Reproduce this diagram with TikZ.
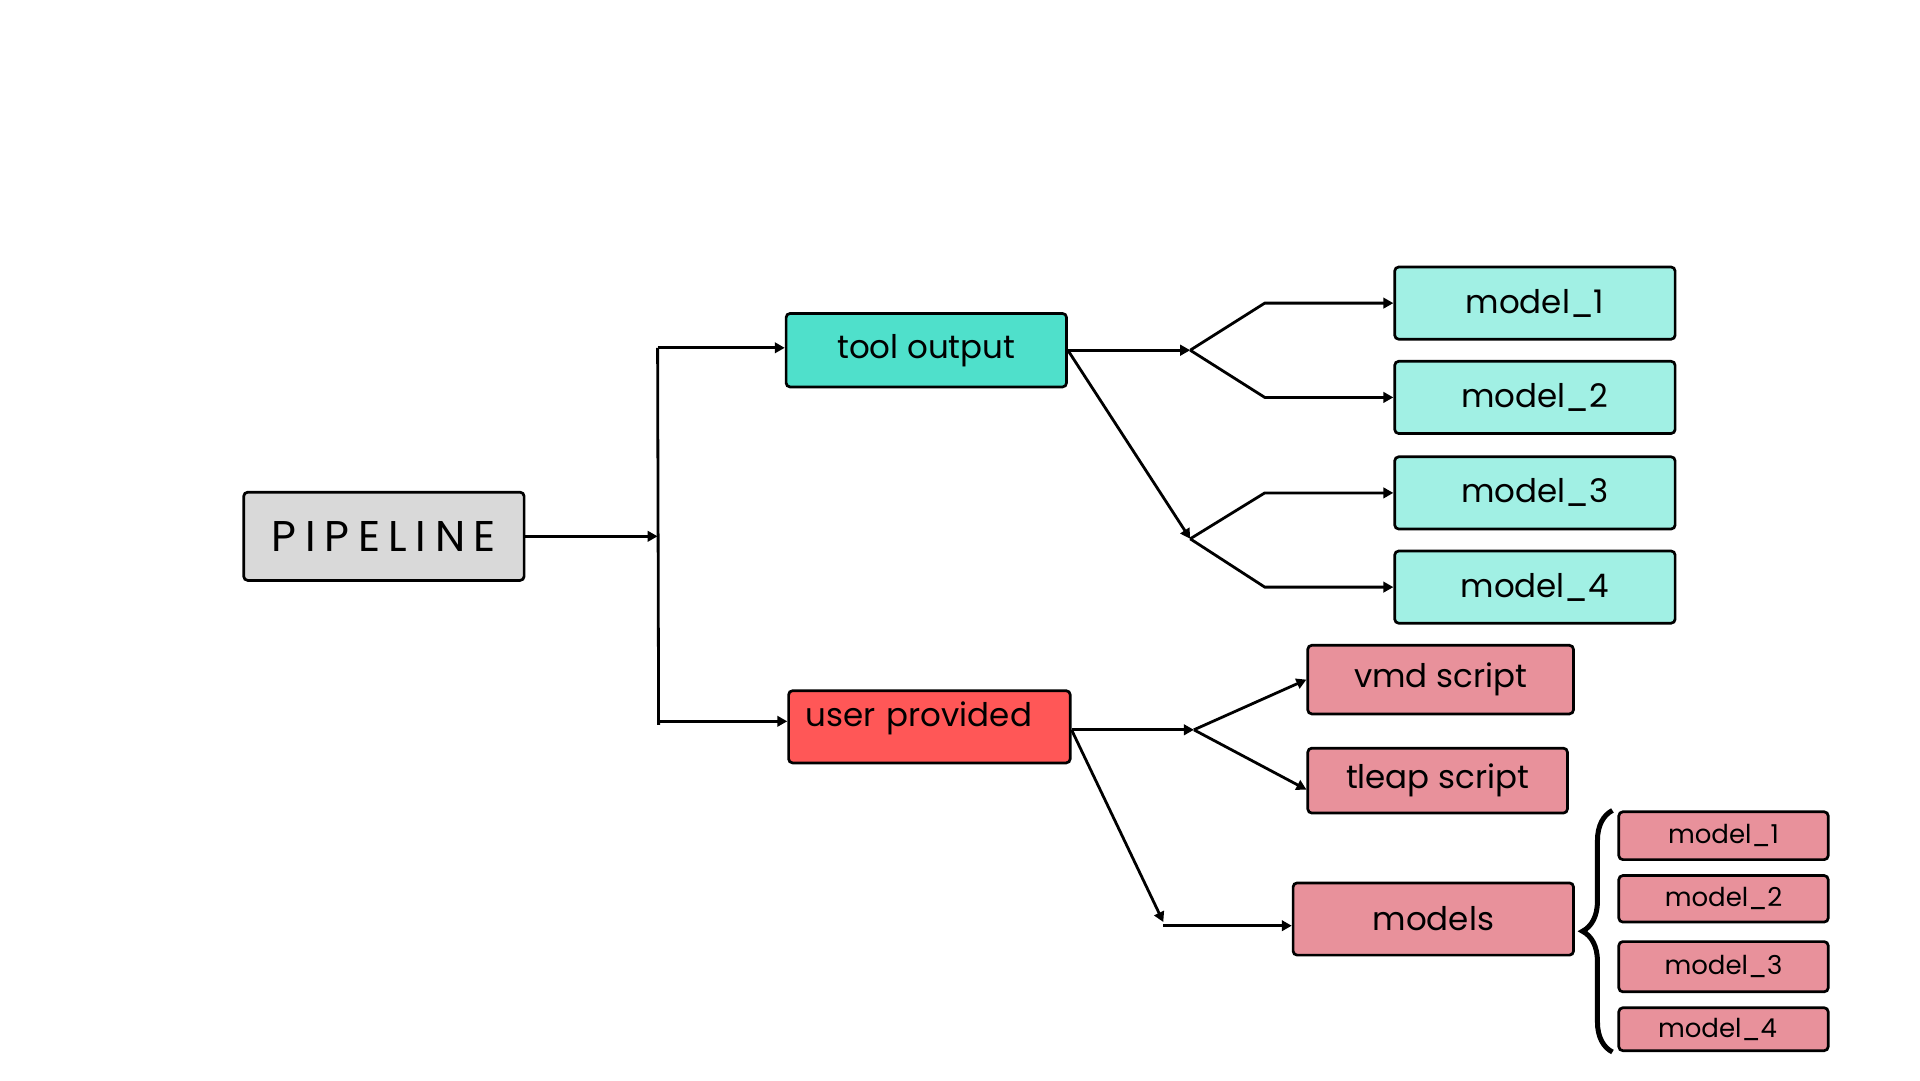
\documentclass[tikz,border=0pt]{standalone}
\usepackage{fontspec}
\setmainfont{Poppins}
\usetikzlibrary{arrows.meta,decorations.pathreplacing}
\definecolor{pipegray}{HTML}{D9D9D9}
\definecolor{toolteal}{HTML}{4FE0CB}
\definecolor{modelteal}{HTML}{A1F0E4}
\definecolor{userred}{HTML}{FF5757}
\definecolor{userpink}{HTML}{E8919B}
\tikzset{
  box/.style={draw=black, line width=2.7pt, rounded corners=4pt, inner sep=0pt, font=\fontsize{32.5}{36}\selectfont},
  smallbox/.style={box, font=\fontsize{26}{29}\selectfont, minimum width=209.4pt},
  conn/.style={line width=2.8pt, -{Triangle[length=10pt,width=10.5pt]}},
  plainline/.style={line width=2.8pt},
  bracestyle/.style={line width=5pt, decorate, decoration={brace, amplitude=30pt}},
}
\begin{document}
\begin{tikzpicture}[x=1pt,y=-1pt]
\useasboundingbox (0,0) rectangle (1920,1080);
% nodes
\node[box, fill=pipegray, minimum width=280.4pt, minimum height=88.2pt, font=\fontsize{43}{46}\selectfont\addfontfeature{LetterSpace=20}] (pipe) at (383.9,536.3) {PIPELINE};
\node[box, fill=toolteal, minimum width=280.4pt, minimum height=73.5pt] (tool) at (926.3,350.2) {\raisebox{-3pt}{tool output}\hspace{12pt}};
\node[box, fill=userred, minimum width=281.6pt, minimum height=72.2pt, text width=247pt, align=left] (user) at (929.4,726.8) {\raisebox{0pt}[0pt][0pt]{user provided}};
\node[box, fill=modelteal, minimum width=280.4pt, minimum height=72.2pt] (m1) at (1534.9,303.1) {model\_1};
\node[box, fill=modelteal, minimum width=280.4pt, minimum height=72.2pt] (m2) at (1534.9,397.4) {model\_2};
\node[box, fill=modelteal, minimum width=280.4pt, minimum height=72.2pt] (m3) at (1534.9,492.9) {model\_3};
\node[box, fill=modelteal, minimum width=280.4pt, minimum height=72.2pt] (m4) at (1534.9,587.1) {model\_4};
\node[box, fill=userpink, minimum width=265.7pt, minimum height=68.6pt] (vmd) at (1440.6,679.6) {vmd script};
\node[box, fill=userpink, minimum width=259.6pt, minimum height=64.9pt] (tleap) at (1437.6,780.6) {tleap script};
\node[box, fill=userpink, minimum width=280.4pt, minimum height=72.2pt] (models) at (1433.3,919) {models};
\node[smallbox, fill=userpink, minimum height=47.8pt] (s1) at (1723.5,835.7) {model\_1};
\node[smallbox, fill=userpink, minimum height=46.5pt] (s2) at (1723.5,898.8) {model\_2};
\node[smallbox, fill=userpink, minimum height=50.2pt] (s3) at (1723.5,966.7) {model\_3};
\node[smallbox, fill=userpink, minimum height=42.9pt] (s4) at (1723.5,1029.2) {\hspace{-12pt}model\_4};
% junctions
\coordinate (j) at (657.6,536.3);
\coordinate (jt) at (657.6,347.8);
\coordinate (ju) at (658.6,724.9);
\coordinate (a1) at (1190.2,350.2);
\coordinate (a2) at (1190.2,538.8);
\coordinate (b1) at (1193.9,729.8);
\coordinate (c1) at (1163.3,922);
% connectors
\draw[conn] (pipe.east) -- (j);
\draw[plainline] (jt) -- (ju);
\draw[conn] (jt) -- (jt -| tool.west);
\draw[conn] ([yshift=3.6pt]ju) -- ([yshift=3.6pt]ju -| user.west);
\draw[conn] (tool.east) -- (a1);
\draw[conn] (a1) -- ([xshift=-128.6pt]m1.west) -- (m1.west);
\draw[conn] (a1) -- ([xshift=-128.6pt]m2.west) -- (m2.west);
\draw[conn] (tool.east) -- (a2);
\draw[conn] (a2) -- ([xshift=-128.6pt]m3.west) -- (m3.west);
\draw[conn] (a2) -- ([xshift=-128.6pt]m4.west) -- (m4.west);
\draw[conn] ([yshift=-3pt]user.east) -- (b1);
\draw[conn] (b1) -- (vmd.west);
\draw[conn] (b1) -- ([yshift=-9pt]tleap.west);
\draw[conn] ([yshift=-3pt]user.east) -- (c1);
\draw[conn] ([yshift=-3.7pt]c1) -- ([yshift=-3.7pt]c1 -| models.west);
\draw[bracestyle] ([xshift=-5pt]s4.south west) -- ([xshift=-5pt]s1.north west);
\end{tikzpicture}
\end{document}
